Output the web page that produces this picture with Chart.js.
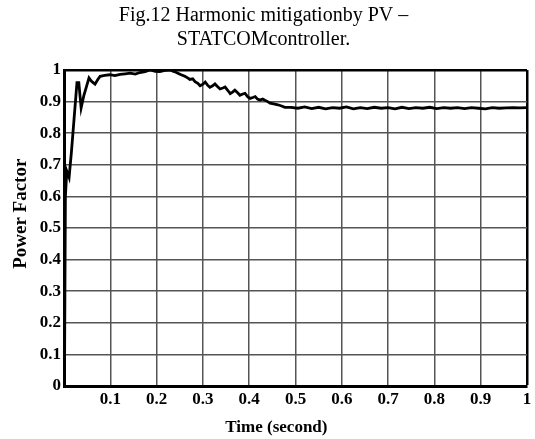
<!DOCTYPE html>
<html>
<head>
<meta charset="utf-8">
<script src="https://cdn.jsdelivr.net/npm/chart.js@4.4.0/dist/chart.umd.min.js"></script>
<style>
  html, body { margin: 0; padding: 0; background: #fff; }
  #box { width: 535px; height: 439px; }
</style>
</head>
<body>
<div id="box"><canvas id="grafico_pf"></canvas></div>
<script>
// tempo (s) e fator de potencia
const tempo = [0.001, 0.003, 0.006, 0.011, 0.016, 0.022, 0.028, 0.032, 0.037, 0.043, 0.049, 0.054, 0.059, 0.063, 0.067, 0.073, 0.078,
    0.088, 0.099, 0.110, 0.121, 0.132, 0.143, 0.154, 0.164, 0.175, 0.186, 0.197, 0.207, 0.218, 0.229, 0.238, 0.246,
    0.253, 0.261, 0.267, 0.272, 0.278, 0.283, 0.289, 0.294, 0.300, 0.305, 0.310, 0.315, 0.321, 0.326, 0.332, 0.337,
    0.343, 0.348, 0.354, 0.359, 0.364, 0.369, 0.375, 0.380, 0.386, 0.391, 0.397, 0.402, 0.408, 0.413, 0.418, 0.423,
    0.429, 0.434, 0.440, 0.445, 0.453, 0.462, 0.470, 0.477, 0.490, 0.505, 0.520, 0.535, 0.550, 0.565, 0.580, 0.595,
    0.610, 0.625, 0.640, 0.655, 0.670, 0.685, 0.700, 0.715, 0.730, 0.745, 0.760, 0.775, 0.790, 0.805, 0.820, 0.835,
    0.850, 0.865, 0.880, 0.895, 0.910, 0.925, 0.940, 0.955, 0.970, 0.985, 1.0];
const fatorPotencia = [0, 0.60, 0.68, 0.66, 0.74, 0.85, 0.96, 0.96, 0.88, 0.92, 0.95, 0.975, 0.965, 0.96, 0.955, 0.97, 0.98,
    0.983, 0.985, 0.982, 0.986, 0.988, 0.99, 0.987, 0.992, 0.995, 1.0, 0.996, 0.995, 0.999, 1.0, 0.995, 0.99,
    0.985, 0.98, 0.975, 0.97, 0.972, 0.963, 0.958, 0.95, 0.955, 0.962, 0.952, 0.945, 0.95, 0.956, 0.947, 0.94,
    0.943, 0.946, 0.935, 0.925, 0.93, 0.936, 0.928, 0.92, 0.924, 0.926, 0.915, 0.91, 0.913, 0.916, 0.908, 0.905,
    0.908, 0.904, 0.9, 0.895, 0.893, 0.89, 0.886, 0.882, 0.882, 0.879, 0.883, 0.878, 0.882, 0.877, 0.881, 0.879,
    0.883, 0.877, 0.881, 0.878, 0.882, 0.879, 0.881, 0.877, 0.882, 0.878, 0.881, 0.879, 0.882, 0.878, 0.881, 0.879,
    0.881, 0.878, 0.881, 0.879, 0.877, 0.881, 0.879, 0.88, 0.881, 0.88, 0.881];

const pontos = tempo.map((t, i) => ({ x: t, y: fatorPotencia[i] }));

const fonteSerif = 'Liberation Serif, Times New Roman, serif';

const contexto = document.getElementById('grafico_pf').getContext('2d');

const grafico = new Chart(contexto, {
    type: 'line',
    data: {
        datasets: [{
            label: 'Power Factor',
            data: pontos,
            borderColor: '#000',
            borderWidth: 2.8,
            pointRadius: 0,
            tension: 0,
            fill: false
        }]
    },
    options: {
        responsive: true,
        maintainAspectRatio: false,
        animation: false,
        layout: {
            padding: { left: 0, right: 8, top: 2, bottom: 0 }
        },
        scales: {
            x: {
                type: 'linear',
                min: 0,
                max: 1,
                afterFit: (scale) => { scale.height = 53; },
                ticks: {
                    stepSize: 0.1,
                    color: '#000',
                    padding: 3,
                    font: { family: fonteSerif, size: 17, weight: 'bold' },
                    callback: (v) => v === 0 ? '' : Math.round(v * 10) / 10
                },
                grid: {
                    color: (c) => c.tick && (c.tick.value === 1) ? '#000' : '#555',
                    lineWidth: (c) => c.tick && (c.tick.value === 1) ? 2.5 : 1.5,
                    drawTicks: false
                },
                border: { color: '#000', width: 3 },
                title: {
                    display: true,
                    // espacos finais puxam o titulo para a esquerda, como na figura
                    text: 'Time (second)         ',
                    color: '#000',
                    padding: { top: 0, bottom: 1 },
                    font: { family: fonteSerif, size: 17, weight: 'bold' }
                }
            },
            y: {
                min: 0,
                max: 1,
                afterFit: (scale) => { scale.width = 64; },
                ticks: {
                    stepSize: 0.1,
                    color: '#000',
                    padding: 3,
                    font: { family: fonteSerif, size: 17, weight: 'bold' },
                    callback: (v) => Math.round(v * 10) / 10
                },
                grid: {
                    color: (c) => c.tick && (c.tick.value === 1) ? '#000' : '#555',
                    lineWidth: (c) => c.tick && (c.tick.value === 1) ? 2.5 : 1.5,
                    drawTicks: false
                },
                border: { color: '#000', width: 3 },
                title: {
                    display: true,
                    text: '      Power Factor',
                    color: '#000',
                    padding: { top: 10, bottom: 0 },
                    font: { family: fonteSerif, size: 19, weight: 'bold' }
                }
            }
        },
        plugins: {
            legend: { display: false },
            tooltip: { enabled: false },
            title: {
                display: true,
                text: ['Fig.12 Harmonic mitigationby PV \u2013', 'STATCOMcontroller.'],
                color: '#000',
                padding: { top: 2, bottom: 18 },
                font: { family: fonteSerif, size: 20, weight: 'normal', lineHeight: 1.2 }
            }
        }
    }
});
</script>
</body>
</html>
